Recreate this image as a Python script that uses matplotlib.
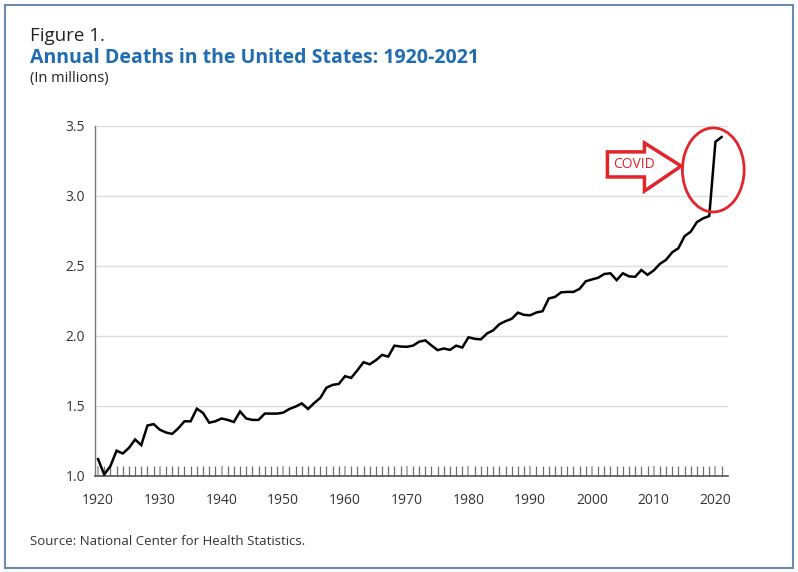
#!/usr/bin/env python3

import matplotlib
matplotlib.use("Agg")
import matplotlib.pyplot as plt
from matplotlib.patches import Ellipse, Polygon, Rectangle
import numpy as np

plt.rcParams['font.family'] = ['Open Sans', 'DejaVu Sans']

# annual deaths, millions
years = list(range(1920, 2022))
deaths = [
    1.12, 1.01, 1.07, 1.18, 1.16, 1.20, 1.26, 1.22, 1.36, 1.37,
    1.33, 1.31, 1.30, 1.34, 1.39, 1.39, 1.48, 1.45, 1.38, 1.39,
    1.41, 1.40, 1.385, 1.46, 1.41, 1.40, 1.40, 1.445, 1.445, 1.445,
    1.452, 1.478, 1.495, 1.518, 1.478, 1.52, 1.557, 1.63, 1.65, 1.657,
    1.712, 1.70, 1.754, 1.812, 1.797, 1.826, 1.864, 1.852, 1.93, 1.924,
    1.922, 1.93, 1.958, 1.968, 1.932, 1.898, 1.91, 1.90, 1.93, 1.917,
    1.99, 1.979, 1.975, 2.017, 2.04, 2.083, 2.105, 2.122, 2.166, 2.15,
    2.147, 2.167, 2.176, 2.267, 2.278, 2.311, 2.314, 2.314, 2.336, 2.39,
    2.403, 2.415, 2.442, 2.447, 2.398, 2.447, 2.425, 2.422, 2.47, 2.436,
    2.467, 2.514, 2.543, 2.597, 2.626, 2.712, 2.744, 2.813, 2.839, 2.856,
    3.386, 3.42,
]
xticks = list(range(1920, 2021, 10))
yticks = [1.0, 1.5, 2.0, 2.5, 3.0, 3.5]

fig = plt.figure(figsize=(7.98, 5.72), dpi=100)
ax = fig.add_axes([0.119, 0.168, 0.793, 0.612])

ax.plot(years, deaths, color='black', lw=1.8, solid_joinstyle='miter', zorder=3)

ax.set_xlim(1919.5, 2022)
ax.set_ylim(1.0, 3.5)
ax.set_yticks(yticks)
ax.set_yticklabels(['{:.1f}'.format(v) for v in yticks])
ax.set_xticks(xticks)
ax.set_xticks(years, minor=True)
ax.tick_params(axis='x', which='major', direction='in', length=7, width=1.3,
               color='#aaaaaa', labelsize=10, labelcolor='#333333', pad=12)
ax.tick_params(axis='x', which='minor', direction='in', length=7, width=0.9,
               color='#707070')
ax.tick_params(axis='y', length=0, labelsize=10, labelcolor='#333333', pad=7)

ax.grid(axis='y', color='#dddddd', lw=1)
ax.set_axisbelow(True)
for s in ['top', 'right']:
    ax.spines[s].set_visible(False)
ax.spines['left'].set_color('#777777')
ax.spines['bottom'].set_color('#555555')
ax.spines['left'].set_linewidth(1)
ax.spines['bottom'].set_linewidth(1.2)

# COVID callout
ax.add_patch(Ellipse((2019.65, 3.185), 10.0, 0.60, fill=False, ec='#e3242b',
                     lw=2, clip_on=False, zorder=4))
arrow = [(2002.5, 3.135), (2002.5, 3.314), (2008.5, 3.314), (2008.5, 3.378),
         (2014.45, 3.213), (2008.5, 3.034), (2008.5, 3.135)]
ax.add_patch(Polygon(arrow, closed=True, fc='white', ec='#e3242b', lw=2.5,
                     joinstyle='miter', clip_on=False, zorder=4))
ax.text(2006.8, 3.222, 'COVID', color='#d9262c', fontsize=10, ha='center',
        va='center', zorder=5)

fig.text(0.037, 0.937, 'Figure 1.', fontsize=13.5, color='#222222', va='center')
fig.text(0.037, 0.899, 'Annual Deaths in the United States: 1920-2021',
         fontsize=14, fontweight='bold', color='#1f6db0', va='center')
fig.text(0.037, 0.862, '(In millions)', fontsize=10.5, color='#222222', va='center')
fig.text(0.037, 0.054, 'Source: National Center for Health Statistics.',
         fontsize=9.5, color='#333333', va='center')

fig.patches.append(Rectangle((0.006, 0.007), 0.988, 0.985, transform=fig.transFigure,
                             fill=False, ec='#6a8cb4', lw=1.5))

fig.savefig('out.png', dpi=100)
